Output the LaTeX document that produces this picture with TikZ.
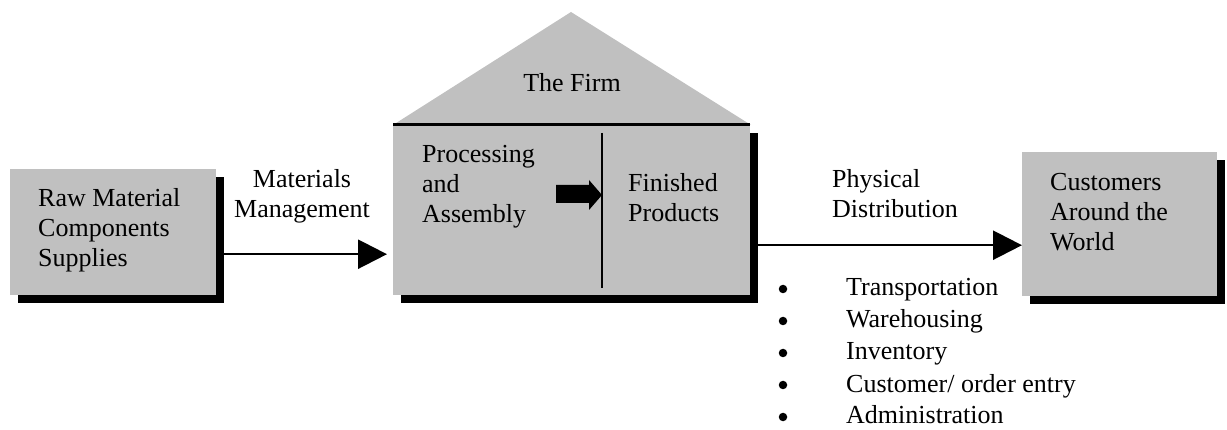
\documentclass[tikz,border=0pt]{standalone}
\usepackage{fontspec}
\setmainfont{Liberation Serif}
\usetikzlibrary{shadows,arrows.meta}
\definecolor{boxgray}{RGB}{192,192,192}
\newcommand{\lines}[2]{\begin{tabular}[t]{@{}#1@{}}#2\end{tabular}}
\tikzset{
  box/.style={fill=boxgray, draw=none, inner sep=0, anchor=north west,
    drop shadow={shadow xshift=8pt, shadow yshift=-8pt, fill=black, opacity=1}},
  txt/.style={inner sep=0, anchor=base west, font=\fontsize{26}{30}\selectfont},
  flow/.style={line width=2.5pt, -{Triangle[length=29pt,width=29pt]}},
  dot/.style={circle, fill=black, inner sep=0, minimum size=8.5pt},
}
\begin{document}
\begin{tikzpicture}[x=1pt, y=-1pt]
\useasboundingbox (0,0) rectangle (1227,430);

% roof of the firm
\fill[boxgray] (393,125) -- (571,12) -- (751,125) -- cycle;

% boxes
\node[box, minimum width=206, minimum height=126] (raw) at (10,169) {};
\node[box, minimum width=357, minimum height=170] (firm) at (393,125) {};
\node[box, minimum width=195, minimum height=144] (cust) at (1022,152) {};

% firm: top edge, inner divider and inner arrow
\draw[line width=3pt] (firm.north west) -- (firm.north east);
\coordinate (divtop) at (602,133);
\coordinate (divbot) at (602,288);
\draw[line width=1.5pt] (divtop) -- (divbot);
\fill (556,185) -- (589,185) -- (589,180) -- (602,195) -- (589,210)
      -- (589,203) -- (556,203) -- cycle;

% flows
\draw[flow, shorten >=6pt] ([yshift=-22pt]raw.east) -- ([yshift=-22pt]raw.east -| firm.west);
\draw[flow] ([yshift=-35pt]firm.east) -- ([yshift=-35pt]firm.east -| cust.west);

% texts
\node[txt] (rawtxt) at (38,207) {\lines{l}{Raw Material\\Components\\Supplies}};
\node[txt, anchor=base] (mm) at (302,188) {\lines{c}{Materials\\Management}};
\node[txt, anchor=base] (firmtxt) at (572,92) {The Firm};
\node[txt] (proc) at (422,163) {\lines{l}{Processing\\and\\Assembly}};
\node[txt] (fin) at (628,192) {\lines{l}{Finished\\Products}};
\node[txt] (pd) at (832,188) {\lines{l}{Physical\\Distribution}};
\node[txt] (custtxt) at (1050,191) {\lines{l}{Customers\\Around the\\World}};

% list of distribution activities
\foreach \t [count=\i] in {Transportation, Warehousing, Inventory, Customer/ order entry, Administration}{
  \node[txt] (item\i) at (846,{296+32*(\i-1)}) {\t};
  \node[dot] (dot\i) at (783,{289+32*(\i-1)}) {};
}
\end{tikzpicture}
\end{document}
